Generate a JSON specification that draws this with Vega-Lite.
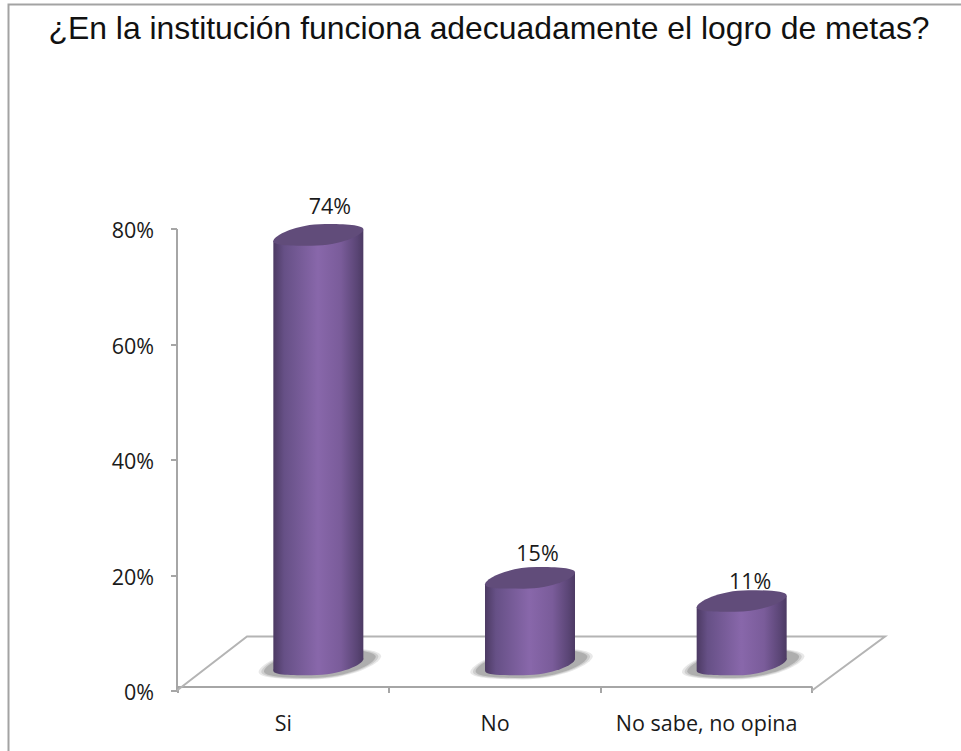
{"$schema":"https://vega.github.io/schema/vega-lite/v6.json","autosize":"none","width":975,"height":765,"padding":{"left":8.5,"top":4.5,"right":0,"bottom":0},"background":"white","view":{"stroke":"#a3a3a3","strokeWidth":2,"fill":"white"},"title":{"text":"¿En la institución funciona adecuadamente el logro de metas?","anchor":"start","frame":"group","offset":-41.5,"dx":40,"font":"Liberation Sans","fontSize":31.9,"fontWeight":"normal","color":"#111111"},"config":{"axis":{"domainColor":"#a6a6a6","domainWidth":2,"tickColor":"#a6a6a6","tickWidth":2,"tickSize":6,"grid":false,"labelFont":"Open Sans","labelFontSize":21.5,"labelColor":"#1a1a1a","title":null}},"resolve":{"scale":{"x":"independent"}},"layer":[{"data":{"values":[{"depth":0,"share":0,"step":1},{"depth":70,"share":0.0935,"step":2},{"depth":708,"share":0.0935,"step":3},{"depth":635,"share":0,"step":4}]},"mark":{"type":"line","color":"#b4b4b4","strokeWidth":2,"clip":false},"encoding":{"x":{"field":"depth","type":"quantitative","axis":null,"scale":{"domain":[0,635],"range":[168.5,803.5],"zero":false,"nice":false}},"y":{"field":"share","type":"quantitative","scale":{"domain":[0,0.8],"range":[686,224],"nice":false},"axis":{"values":[0,0.2,0.4,0.6,0.8],"format":".0%","offset":-168,"labelPadding":17,"labelOffset":3}},"order":{"field":"step","type":"ordinal"}}},{"data":{"values":[{"respuesta":"Si","valor":0.744,"etiqueta":"74%"},{"respuesta":"No","valor":0.15,"etiqueta":"15%"},{"respuesta":"No sabe, no opina","valor":0.11,"etiqueta":"11%"}]},"encoding":{"x":{"field":"respuesta","type":"nominal","sort":null,"scale":{"domain":["Si","No","No sabe, no opina"],"range":[168.5,803.5],"paddingInner":0,"paddingOuter":0},"axis":{"tickBand":"extent","labelAngle":0,"offset":-83,"labelPadding":21,"labelOverlap":false,"labelLimit":400,"orient":"bottom"}}},"layer":[{"mark":{"type":"point","filled":true,"fill":"#808080","opacity":0.18,"stroke":null,"size":15000,"shape":"M -1 0.14 C -1 0.02 -0.5 -0.26 0.15 -0.26 C 0.6 -0.26 1 -0.22 1 -0.12 C 1 0 0.5 0.26 -0.15 0.26 C -0.6 0.26 -1 0.24 -1 0.14 Z","xOffset":37,"yOffset":-27},"encoding":{"y":{"datum":0}}},{"mark":{"type":"point","filled":true,"fill":"#808080","opacity":0.25,"stroke":null,"size":13700,"shape":"M -1 0.14 C -1 0.02 -0.5 -0.26 0.15 -0.26 C 0.6 -0.26 1 -0.22 1 -0.12 C 1 0 0.5 0.26 -0.15 0.26 C -0.6 0.26 -1 0.24 -1 0.14 Z","xOffset":37,"yOffset":-27},"encoding":{"y":{"datum":0}}},{"mark":{"type":"point","filled":true,"fill":"#808080","opacity":0.4,"stroke":null,"size":12500,"shape":"M -1 0.14 C -1 0.02 -0.5 -0.26 0.15 -0.26 C 0.6 -0.26 1 -0.22 1 -0.12 C 1 0 0.5 0.26 -0.15 0.26 C -0.6 0.26 -1 0.24 -1 0.14 Z","xOffset":37,"yOffset":-27},"encoding":{"y":{"datum":0}}},{"mark":{"type":"point","filled":true,"opacity":1,"stroke":null,"size":8100,"shape":"M -1 0.14 C -1 0.02 -0.5 -0.24 0.15 -0.24 C 0.6 -0.24 1 -0.22 1 -0.12 C 1 0 0.5 0.24 -0.15 0.24 C -0.6 0.24 -1 0.24 -1 0.14 Z","xOffset":35.5,"yOffset":-26,"fill":{"gradient":"linear","x1":0,"x2":1,"y1":0,"y2":0,"stops":[{"offset":0,"color":"#4c3a63"},{"offset":0.12,"color":"#665086"},{"offset":0.5,"color":"#8867aa"},{"offset":0.75,"color":"#7a5c9a"},{"offset":0.93,"color":"#5a4575"},{"offset":1,"color":"#4c3a63"}]}},"encoding":{"y":{"datum":0}}},{"mark":{"type":"bar","size":47,"xOffset":14,"yOffset":-20,"y2Offset":-20,"fill":{"gradient":"linear","x1":0,"x2":1,"y1":0,"y2":0,"stops":[{"offset":0,"color":"#4c3a63"},{"offset":0.23,"color":"#665086"},{"offset":0.94,"color":"#8867aa"},{"offset":1,"color":"#8867aa"}]}},"encoding":{"y":{"field":"valor","type":"quantitative"},"y2":{"datum":0}}},{"mark":{"type":"bar","size":45,"xOffset":58,"yOffset":-31,"y2Offset":-31,"fill":{"gradient":"linear","x1":0,"x2":1,"y1":0,"y2":0,"stops":[{"offset":0,"color":"#8867aa"},{"offset":0.5,"color":"#7a5c9a"},{"offset":0.86,"color":"#5a4575"},{"offset":1,"color":"#4c3a63"}]}},"encoding":{"y":{"field":"valor","type":"quantitative"},"y2":{"datum":0}}},{"mark":{"type":"point","filled":true,"opacity":1,"stroke":null,"fill":"#614c7a","size":8100,"shape":"M -1 0.14 C -1 0.02 -0.5 -0.24 0.15 -0.24 C 0.6 -0.24 1 -0.22 1 -0.12 C 1 0 0.5 0.24 -0.15 0.24 C -0.6 0.24 -1 0.24 -1 0.14 Z","xOffset":35.5,"yOffset":-26},"encoding":{"y":{"field":"valor","type":"quantitative"}}},{"transform":[{"filter":"datum.respuesta === 'Si'"}],"mark":{"type":"text","font":"Open Sans","fontSize":21.5,"color":"#1a1a1a","xOffset":47,"yOffset":-53},"encoding":{"y":{"field":"valor","type":"quantitative"},"text":{"field":"etiqueta"}}},{"transform":[{"filter":"datum.respuesta === 'No'"}],"mark":{"type":"text","font":"Open Sans","fontSize":21.5,"color":"#1a1a1a","xOffset":43,"yOffset":-49},"encoding":{"y":{"field":"valor","type":"quantitative"},"text":{"field":"etiqueta"}}},{"transform":[{"filter":"datum.respuesta === 'No sabe, no opina'"}],"mark":{"type":"text","font":"Open Sans","fontSize":21.5,"color":"#1a1a1a","xOffset":44,"yOffset":-44},"encoding":{"y":{"field":"valor","type":"quantitative"},"text":{"field":"etiqueta"}}}]}]}
